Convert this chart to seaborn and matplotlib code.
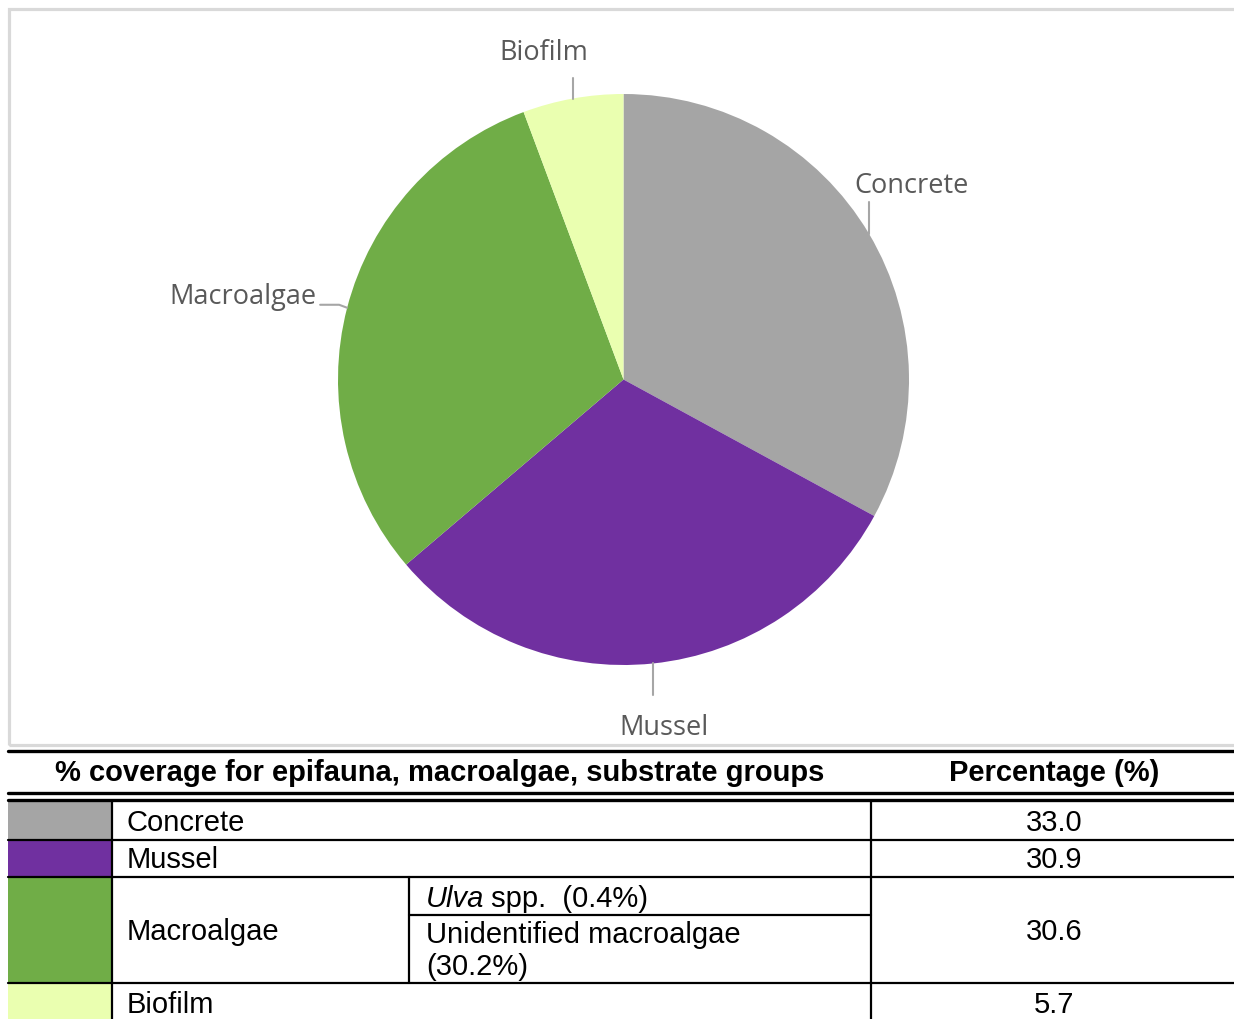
import numpy as np
import matplotlib
matplotlib.use("Agg")
import matplotlib.pyplot as plt
import seaborn as sns

# data
groups = ["Concrete", "Mussel", "Macroalgae", "Biofilm"]
percent = [33.0, 30.9, 30.6, 5.7]
colours = ["#a5a5a5", "#7030a0", "#70ad47", "#eaffb0"]
macro_parts = ["Ulva spp.  (0.4%)", "Unidentified macroalgae\n(30.2%)"]
header = ["% coverage for epifauna, macroalgae, substrate groups", "Percentage (%)"]

sns.set_theme(style="white")
plt.rcParams["font.family"] = ["Liberation Sans", "DejaVu Sans"]

W, H = 1234, 1019
fig = plt.figure(figsize=(W / 100, H / 100), dpi=100)
ax = fig.add_axes([0, 0, 1, 1])

def Y(y):
    return H - y

# pie
cx, cy, r = 623.5, Y(379.5), 285.5
wedges, _ = ax.pie(percent, colors=colours, startangle=90, counterclock=False,
                   center=(cx, cy), radius=r, frame=True,
                   wedgeprops=dict(linewidth=0, edgecolor="none"))
ax.set_xlim(0, W)
ax.set_ylim(0, H)
ax.set_aspect("auto")
ax.axis("off")

# chart area border
ax.add_patch(plt.Rectangle((8.5, Y(745)), 1240, 745 - 8.5, fill=False,
                           edgecolor="#d9d9d9", lw=2.3))

lab_font = dict(family=["Open Sans", "DejaVu Sans"], fontsize=19.5, color="#595959")
lead = 32
for w, name in zip(wedges, groups):
    mid = np.deg2rad((w.theta1 + w.theta2) / 2)
    ex, ey = cx + r * np.cos(mid), cy + r * np.sin(mid)
    if abs(np.sin(mid)) > 0.45:
        s = np.sign(np.sin(mid))
        right = np.cos(mid) > 0.3
        tx, ty = ex, ey + s * (lead if s < 0 or right else 21)
        ax.plot([ex, tx], [ey, ty], color="#a6a6a6", lw=1.5)
        va = "bottom" if s > 0 else "top"
        dx = 43 if right else (-29 if np.cos(mid) < -0.1 else 11)
        gap = (2 if right else 11) if s > 0 else 19
        ax.text(tx + dx, ty + s * gap, name, ha="center", va=va, **lab_font)
    else:
        s = np.sign(np.cos(mid))
        tx, ty = ex + s * 27, ey + 3
        ax.plot([ex, ex + s * 8, tx], [ey, ty, ty], color="#a6a6a6", lw=1.5)
        ax.text(tx + s * 4, ty + 8, name, ha="right" if s < 0 else "left",
                va="center", **lab_font)

# table
xl, xs, xsub, xv, xr = 8, 112, 409, 871, W
ax.plot([xl, xr], [Y(751), Y(751)], color="black", lw=2.4)
ax.plot([xl, xr], [Y(792.5), Y(792.5)], color="black", lw=2.4)
ax.plot([xl, xr], [Y(800), Y(800)], color="black", lw=2.4)
tf = dict(fontsize=21, color="black")
ax.text((xl + xv) / 2, Y(773), header[0], ha="center", va="center",
        fontweight="bold", **tf)
ax.text((xv + xr) / 2 + 2, Y(773), header[1], ha="center", va="center",
        fontweight="bold", **tf)

row_edges = [801.5, 840, 877, 983, 1025]
for i, (name, val, col) in enumerate(zip(groups, percent, colours)):
    top, bot = row_edges[i], row_edges[i + 1]
    ax.add_patch(plt.Rectangle((xl, Y(bot)), xs - xl, bot - top, color=col, lw=0))
    mid = (top + bot) / 2 + 2 if i < 3 else 1005
    ax.text(127, Y(mid), name, ha="left", va="center", **tf)
    ax.text((xv + xr) / 2 + 2, Y(mid), f"{val:.1f}", ha="center", va="center", **tf)
    if i > 0:
        ax.plot([xl, xr], [Y(top), Y(top)], color="black", lw=1.6)

# macroalgae sub rows
ax.plot([xsub, xsub], [Y(877), Y(983)], color="black", lw=1.6)
ax.plot([xsub, xv], [Y(914.5), Y(914.5)], color="black", lw=1.6)
ax.text(426, Y(899), "Ulva", ha="left", va="center", style="italic", **tf)
ax.text(426 + 57, Y(899), macro_parts[0][4:], ha="left", va="center", **tf)
ax.text(426, Y(951), macro_parts[1], ha="left", va="center", linespacing=1.2, **tf)

ax.plot([xs, xs], [Y(801.5), 0], color="black", lw=1.6)
ax.plot([xv, xv], [Y(801.5), 0], color="black", lw=1.6)

fig.savefig("out.png", dpi=100)
